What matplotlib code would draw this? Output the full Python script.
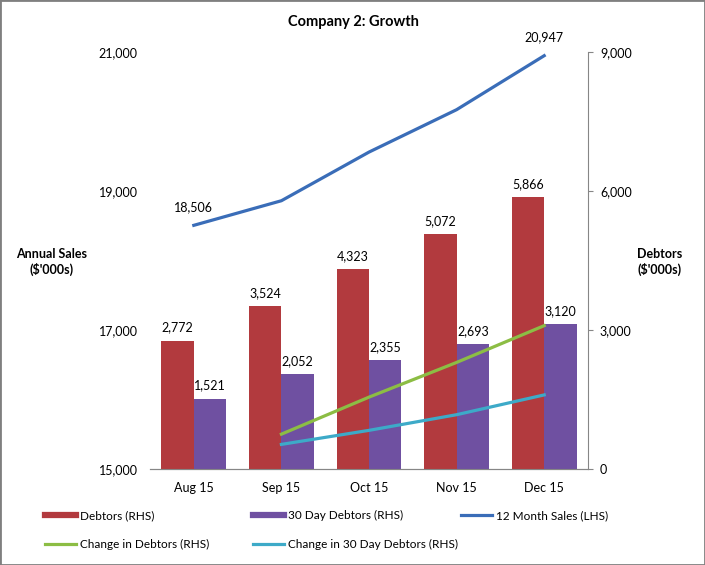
import matplotlib.pyplot as plt
from matplotlib.lines import Line2D
from matplotlib.patches import Rectangle
import numpy as np

plt.rcParams['font.family'] = ['Lato', 'DejaVu Sans']

# data
months = ['Aug 15', 'Sep 15', 'Oct 15', 'Nov 15', 'Dec 15']
debtors = [2772, 3524, 4323, 5072, 5866]
debtors_30 = [1521, 2052, 2355, 2693, 3120]
sales_12m = [18506, 18860, 19560, 20170, 20947]
chg_debtors = [752, 1551, 2300, 3094]          # Sep..Dec
chg_debtors_30 = [531, 834, 1172, 1599]        # Sep..Dec

red = '#B23A3E'
purple = '#6F50A1'
blue = '#3A6DB8'
green = '#8CBD44'
cyan = '#3DAAC8'
grey = '#868686'

fig = plt.figure(figsize=(7.05, 5.65), dpi=100)
ax = fig.add_axes([150 / 705, 1 - 469 / 565, 438 / 705, 417 / 565])
ax2 = ax.twinx()

x = np.arange(len(months))
w = 0.37

# bars on the right hand axis
b1 = ax2.bar(x - w / 2, debtors, w, color=red)
b2 = ax2.bar(x + w / 2, debtors_30, w, color=purple)
ax2.bar_label(b1, labels=[f'{v:,}' for v in debtors], padding=5, fontsize=9)
ax2.bar_label(b2, labels=[f'{v:,}' for v in debtors_30], padding=5, fontsize=9)
ax2.plot(x[1:], chg_debtors, color=green, lw=2.3)
ax2.plot(x[1:], chg_debtors_30, color=cyan, lw=2.3)

# 12 month sales on the left hand axis
ax.plot(x, sales_12m, color=blue, lw=2.3)
for i in [0, len(x) - 1]:
    ax.annotate(f'{sales_12m[i]:,}', (x[i], sales_12m[i]), xytext=(0, 9),
                textcoords='offset points', ha='center', va='bottom', fontsize=9)

ax.set_xlim(-0.5, 4.5)
ax.set_ylim(15000, 21000)
ax.set_yticks([15000, 17000, 19000, 21000])
ax.set_yticklabels([f'{v:,}' for v in [15000, 17000, 19000, 21000]], fontsize=9)
ax.tick_params(axis='y', length=0, pad=9)
ax.set_xticks(x)
ax.set_xticklabels(months, fontsize=9)
ax.tick_params(axis='x', length=0, pad=9)

ax2.set_ylim(0, 9000)
ax2.set_yticks([0, 3000, 6000, 9000])
ax2.set_yticklabels([f'{v:,}' for v in [0, 3000, 6000, 9000]], fontsize=9)
ax2.tick_params(axis='y', length=3.6, color=grey, pad=5)

for a in (ax, ax2):
    a.spines['top'].set_visible(False)
    a.spines['left'].set_visible(False)
    a.spines['right'].set_visible(False)
    a.spines['bottom'].set_color(grey)
ax2.spines['right'].set_visible(True)
ax2.spines['right'].set_color(grey)

fig.text(353 / 705, 1 - 22 / 565, 'Company 2: Growth', ha='center', va='center',
         fontsize=10.5, fontweight='bold')
fig.text(52 / 705, 1 - 262 / 565, "Annual Sales\n($'000s)", ha='center', va='center',
         fontsize=9, fontweight='bold', linespacing=1.3)
fig.text(660 / 705, 1 - 262 / 565, "Debtors\n($'000s)", ha='center', va='center',
         fontsize=9, fontweight='bold', linespacing=1.3)

# legend laid out in three columns like the original
cols = [
    ([Line2D([], [], color=red, lw=4.5), Line2D([], [], color=green, lw=2.3)],
     ['Debtors (RHS)', 'Change in Debtors (RHS)'], 45),
    ([Line2D([], [], color=purple, lw=4.5), Line2D([], [], color=cyan, lw=2.3)],
     ['30 Day Debtors (RHS)', 'Change in 30 Day Debtors (RHS)'], 253),
    ([Line2D([], [], color=blue, lw=2.3)], ['12 Month Sales (LHS)'], 461),
]
for handles, labels, xpos in cols:
    fig.legend(handles, labels, loc='upper left', bbox_to_anchor=(xpos / 705, 1 - 510 / 565),
               frameon=False, fontsize=8.5, handlelength=2.6, handletextpad=0.35,
               labelspacing=1.55, borderaxespad=0, borderpad=0)

fig.patches.append(Rectangle((0, 0), 1, 1, transform=fig.transFigure, fill=False,
                             edgecolor='#7F7F7F', lw=2))

fig.savefig('out.png', dpi=100)
